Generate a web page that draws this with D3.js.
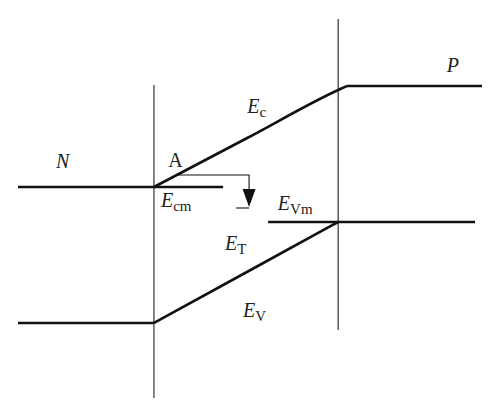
<!DOCTYPE html>
<html><head><meta charset="utf-8">
<script src="https://cdn.jsdelivr.net/npm/d3@7"></script>
<style>html,body{margin:0;padding:0;background:#fff;}svg{display:block;}</style>
</head><body>
<svg id="c" width="500" height="416"></svg>
<script>
// position (arbitrary units 0-100), energy (eV, arbitrary reference)
const ecN = [[0,1.36],[44.2,1.36]];
const ecSlope = [[29.3,1.36],[49.4,1.85],[69.0,2.33],[70.9,2.37]];
const ecP = [[70.9,2.37],[100,2.37]];
const evN = [[0,0],[29.3,0]];
const evSlope = [[29.3,0],[50.9,0.55],[69.0,1.01]];
const evm = [[53.9,1.01],[98.5,1.01]];
const interfaces = [{x:29.3,y0:-0.75,y1:2.38},{x:69.0,y0:-0.07,y1:3.04}];
const arrowPath = [[34.5,1.48],[49.8,1.48],[49.8,1.34]];
const arrowHead = {x:49.8,top:1.34,tip:1.16,half:1.4};
const bracket = [[47.0,1.15],[49.8,1.15]];
const labels = [
  {t:"N", x:8.2, y:1.55, italic:true},
  {t:"A", x:32.4, y:1.56, italic:false},
  {t:"E", sub:"c", x:49.4, y:2.10},
  {t:"P", x:92.4, y:2.51, italic:true},
  {t:"E", sub:"cm", x:30.8, y:1.16},
  {t:"E", sub:"Vm", x:56.0, y:1.13},
  {t:"E", sub:"T", x:44.6, y:0.73},
  {t:"E", sub:"V", x:48.5, y:0.06}
];

const svg = d3.select("#c");
const x = d3.scaleLinear().domain([0,100]).range([18,482]);
const y = d3.scaleLinear().domain([0,2.37]).range([323,86]);
const line = d3.line().x(d=>x(d[0])).y(d=>y(d[1]));
const smooth = d3.line().x(d=>x(d[0])).y(d=>y(d[1])).curve(d3.curveMonotoneX);

svg.selectAll("line.iface").data(interfaces).join("line")
  .attr("x1",d=>x(d.x)).attr("x2",d=>x(d.x))
  .attr("y1",d=>y(d.y1)).attr("y2",d=>y(d.y0))
  .attr("stroke","#333").attr("stroke-width",1.2);

const bands = [[ecN,line],[ecSlope,smooth],[ecP,line],[evN,line],[evSlope,smooth],[evm,line]];
bands.forEach(([d,g])=>{
  svg.append("path").attr("d",g(d)).attr("fill","none")
    .attr("stroke","#111").attr("stroke-width",2.6).attr("stroke-linejoin","round");
});

svg.append("path").attr("d",line(arrowPath)).attr("fill","none").attr("stroke","#111").attr("stroke-width",1.1);
svg.append("path").attr("d",line(bracket)).attr("fill","none").attr("stroke","#111").attr("stroke-width",1.1);
const ax = x(arrowHead.x), hw = x(arrowHead.half)-x(0);
svg.append("path")
  .attr("d",`M${ax-hw},${y(arrowHead.top)}L${ax+hw},${y(arrowHead.top)}L${ax},${y(arrowHead.tip)}Z`)
  .attr("fill","#111");

labels.forEach(l=>{
  const t = svg.append("text").attr("x",x(l.x)).attr("y",y(l.y))
    .attr("font-family","'Liberation Serif', 'DejaVu Serif', serif")
    .attr("font-size",20).attr("fill","#222");
  if(l.sub){
    t.append("tspan").attr("font-style","italic").text(l.t);
    t.append("tspan").attr("font-size",15).attr("dy",4).text(l.sub);
  } else {
    t.attr("font-style", l.italic?"italic":"normal").text(l.t);
  }
});
</script>
</body></html>
